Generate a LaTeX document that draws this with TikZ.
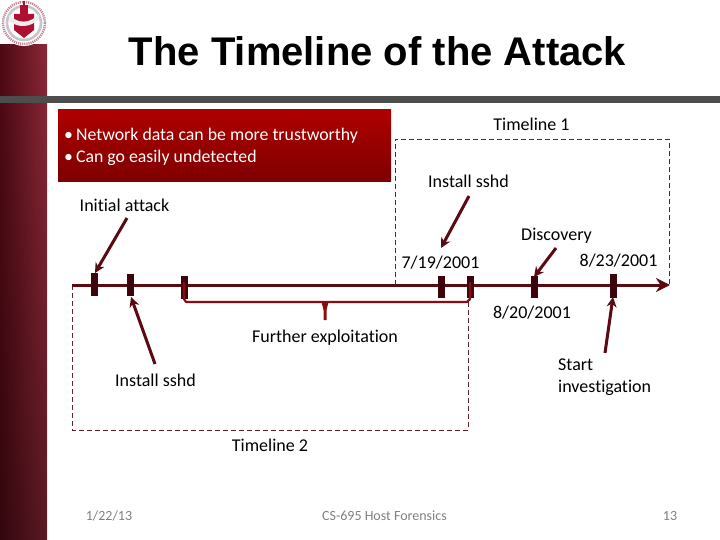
\documentclass[tikz,border=0pt]{standalone}
\usepackage{fontspec}
\setmainfont{Carlito}[Ligatures=NoCommon]
\newfontfamily\titlefont{Liberation Sans}
\usetikzlibrary{arrows.meta,fadings}
\definecolor{darkred}{HTML}{4E0A14}
\definecolor{barred}{HTML}{8C2838}
\definecolor{sealred}{HTML}{B01030}
\definecolor{linered}{HTML}{5A0A10}
\definecolor{bracered}{HTML}{8A0C10}
\definecolor{tickred}{HTML}{3E040C}
\definecolor{dashred}{HTML}{6A1E28}
\definecolor{graybar}{HTML}{4D4D4D}
\definecolor{footgray}{HTML}{808080}
\definecolor{boxtop}{HTML}{AE0000}
\definecolor{boxbot}{HTML}{7E0000}
\tikzset{
  label text/.style={font=\fontsize{18}{22}\selectfont, text=black, inner sep=0pt, align=left},
  box text/.style={font=\fontsize{17.8}{22}\selectfont, text=white, inner sep=0pt, align=left, anchor=west},
  foot text/.style={font=\fontsize{14}{16}\selectfont, text=footgray, inner sep=0pt},
  tickmark/.style={line width=7pt, draw=tickred},
  pointer/.style={draw=linered, line width=3pt, -{Stealth[length=10pt,width=10pt]}},
  dashbox/.style={draw=dashred, line width=0.8pt, dash pattern=on 5pt off 3pt},
}
\begin{document}
\begin{tikzpicture}[x=1pt,y=-1pt]
\useasboundingbox (0,0) rectangle (720,540);
\fill[white] (0,0) rectangle (720,540);
% sidebar
\shade[left color=darkred, right color=barred] (0,45) rectangle (47,540);
\fill[black, opacity=0.35, path fading=north] (0,45) rectangle (47,540);
\fill[graybar] (0,96) rectangle (720,103);
% seal
\fill[white] (24,22) circle (24);
\draw[barred!55, line width=2.4pt, dash pattern=on 1.2pt off 0.9pt] (24,23) circle (21);
\draw[gray!45, line width=2.6pt] (24,23) circle (17);
\fill[sealred] (14,14) -- (34,14) -- (34,30) -- (24,38) -- (14,30) -- cycle;
\fill[white!85!gray] (9,15) .. controls (18,24) and (30,24) .. (39,14) -- (39,19) .. controls (30,28) and (18,28) .. (9,21) -- cycle;
\fill[sealred] (20,5) rectangle (28,14);
\fill[sealred] (23,1) rectangle (25,6);
% title
\node[font=\titlefont\bfseries\fontsize{40}{46}\selectfont, inner sep=0pt] (title) at (377.5,51) {The Timeline of the Attack};
% red box
\shade[top color=boxtop, bottom color=boxbot] (58,109.5) rectangle (391,182);
\node[box text] (bul1) at (64,136) {\textbullet\,Network data can be more trustworthy};
\node[box text] (bul2) at (64,158) {\textbullet\,Can go easily undetected};
% dashed timelines
\coordinate (t1a) at (395,285);
\coordinate (t1b) at (395,139);
\coordinate (t1c) at (669,139);
\coordinate (t1d) at (669,285);
\draw[dashbox] (t1a) -- (t1b) -- (t1c) -- (t1d);
\coordinate (t2a) at (72,285);
\coordinate (t2b) at (72,430);
\coordinate (t2c) at (468,430);
\coordinate (t2d) at (468,300);
\draw[dashbox] (t2a) -- (t2b) -- (t2c) -- (t2d);
% timeline
\coordinate (lineL) at (72,285);
\coordinate (lineR) at (670,285);
\draw[draw=linered, line width=3pt, -{Stealth[length=14pt,width=14pt]}] (lineL) -- (lineR);
% brace
\coordinate (brL) at (184,282);
\coordinate (brR) at (470,282);
\coordinate (brM) at (325,320);
\fill[bracered] (321.5,302) -- (328.5,302) -- (326.5,310) -- (326.5,320) -- (323.5,320) -- (323.5,310) -- cycle;
% ticks
\draw[tickmark] (94,273) -- (94,296);
\draw[tickmark] (130,274) -- (130,296);
\draw[tickmark] (184,276) -- (184,299);
\draw[tickmark] (441,276) -- (441,298);
\draw[tickmark] (470,276) -- (470,298);
\draw[tickmark] (534,276) -- (534,298);
\draw[tickmark] (613,274) -- (613,298);
\draw[bracered, line width=2.2pt, line join=round] (brL) -- (184,299) -- (186,302) -- (467,302) -- (470,299) -- (brR);
% labels
\node[label text] (tl1) at (531.5,124) {Timeline 1};
\node[label text] (sshd1) at (468.5,181) {Install sshd};
\node[label text] (init) at (124.5,205) {Initial attack};
\node[label text] (disc) at (556.5,235.5) {Discovery};
\node[label text] (d1) at (440.5,262.5) {7/19/2001};
\node[label text] (d2) at (618.5,260.5) {8/23/2001};
\node[label text] (d3) at (532,313) {8/20/2001};
\node[label text] (fur) at (325,337.5) {Further exploitation};
\node[label text] (sshd2) at (155.5,380) {Install sshd};
\node[label text, anchor=west, align=left] (start) at (558,377.5) {Start\\investigation};
\node[label text] (tl2) at (270,445.5) {Timeline 2};
% pointers
\coordinate (p1) at (95,273);
\coordinate (p2) at (131,297);
\coordinate (p3) at (441,248);
\coordinate (p4) at (534,277);
\coordinate (p5) at (613,297);
\draw[pointer] (127,218) -- (p1);
\draw[pointer] (155,364) -- (p2);
\draw[pointer] (469,196) -- (p3);
\draw[pointer] (556,248) -- (p4);
\draw[pointer] (605,353) -- (p5);
% footer
\node[foot text] (f1) at (109,516) {1/22/13};
\node[foot text] (f2) at (384.5,516) {CS-695 Host Forensics};
\node[foot text] (f3) at (670,516) {13};
\end{tikzpicture}
\end{document}
